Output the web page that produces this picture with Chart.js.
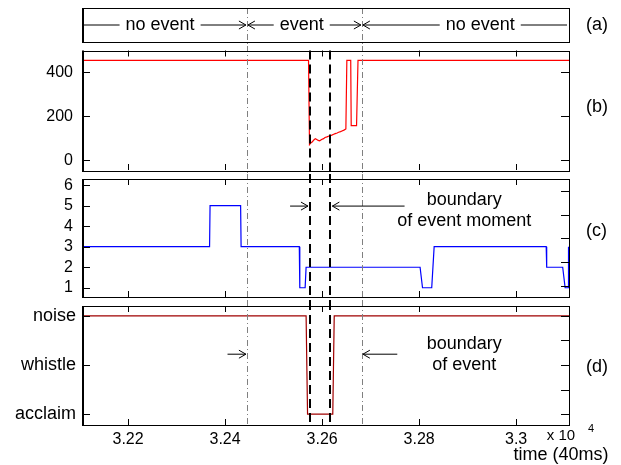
<!DOCTYPE html>
<html>
<head>
<meta charset="utf-8">
<script src="https://cdn.jsdelivr.net/npm/chart.js@4.4.0/dist/chart.umd.min.js"></script>
<style>
  body { margin: 0; background: #fff; width: 621px; height: 465px; position: relative; overflow: hidden; }
  canvas { position: absolute; left: 0; }
</style>
</head>
<body>
<canvas id="pa" width="621" height="46" style="top:0px"></canvas>
<canvas id="pb" width="621" height="128" style="top:46px"></canvas>
<canvas id="pc" width="621" height="127" style="top:174px"></canvas>
<canvas id="pd" width="621" height="164" style="top:301px"></canvas>
<script>
// x range and ticks (time in units of 40ms)
const xMin = 32105, xMax = 33109;
const xTicks = [32200, 32400, 32600, 32800, 33000];
const eventBounds = [32445, 32682];    // grey dash-dot lines
const momentBounds = [32575, 32617];   // black dashed lines

// (a) segments
const segLabels = ['no event', 'event', 'no event'];
const segCenters = [32266, 32558, 32926];

// (b) red curve
const bTime  = [32105, 32572, 32574, 32577, 32580, 32583, 32586, 32589, 32592, 32595, 32599, 32603, 32606, 32610, 32613, 32617, 32620, 32624, 32627, 32631, 32634, 32638, 32641, 32645, 32649, 32651, 32659, 32660, 32671, 32674, 33109];
const bValue = [455, 455, 71, 79, 84, 92, 98, 94, 90, 88, 94, 98, 103, 106, 109, 112, 114, 118, 121, 124, 127, 130, 133, 137, 142, 455, 455, 157, 157, 455, 455];
const bTicks = [0, 200, 400];

// (c) blue curve
const cTime  = [32105, 32368, 32369, 32432, 32433, 32553, 32554, 32565, 32567, 32802, 32807, 32826, 32831, 33062, 33063, 33096, 33101, 33107, 33108];
const cValue = [3, 3, 5, 5, 3, 3, 1, 1, 2, 2, 1, 1, 3, 3, 2, 2, 1, 1, 3];
const cTicks = [1, 2, 3, 4, 5, 6];
const cRightTicks = [1, 2, 3, 4, 5];

// (d) sound class
const dTime  = [32105, 32567, 32570, 32622, 32625, 33109];
const dValue = [3, 3, 1, 1, 3, 3];
const dTicks = [1, 2, 3];
const dNames = ['acclaim', 'whistle', 'noise'];
const dRightTicks = [1, 1.5, 2, 2.5, 3];

Chart.defaults.font.family = '"Liberation Sans", Arial, sans-serif';
Chart.defaults.color = '#000';
Chart.defaults.animation = false;

const FONT = '"Liberation Sans", Arial, sans-serif';

function pts(t, v) { return t.map((x, i) => ({ x: x, y: v[i] })); }

function noPad(s) {
  s.paddingTop = 0; s.paddingBottom = 0; s.paddingLeft = 0; s.paddingRight = 0;
}

function xScale(labels) {
  return {
    type: 'linear', min: xMin, max: xMax, display: labels,
    afterBuildTicks: s => { s.ticks = xTicks.map(v => ({ value: v })); },
    afterFit: s => { if (labels) s.height = 40; noPad(s); },
    grid: { display: false, drawTicks: false },
    border: { display: false },
    ticks: { font: { size: 16 }, padding: 5, maxRotation: 0, autoSkip: false,
      callback: v => String(v / 10000) }
  };
}

function yScale(min, max, ticks, cb, size) {
  const o = {
    min: min, max: max,
    afterBuildTicks: s => { s.ticks = ticks.map(v => ({ value: v })); },
    afterFit: s => { s.width = 82; noPad(s); },
    grid: { display: false, drawTicks: false },
    border: { display: false },
    ticks: { font: { size: size || 16 }, padding: size ? 6 : 9, autoSkip: false }
  };
  if (cb) o.ticks.callback = cb;
  return o;
}

function yRight(min, max, ticks) {
  return {
    position: 'right', min: min, max: max,
    afterBuildTicks: s => { s.ticks = ticks.map(v => ({ value: v })); },
    afterFit: s => { s.width = 0; noPad(s); },
    grid: { display: false, drawTicks: false },
    border: { display: false },
    ticks: { display: false }
  };
}

function arrow(ctx, x1, x2, y, head) {
  ctx.beginPath();
  ctx.moveTo(x1, y);
  ctx.lineTo(x2, y);
  if (head) {
    const d = x2 > x1 ? -1 : 1;
    ctx.moveTo(x2 + d * 7, y - 4);
    ctx.lineTo(x2, y);
    ctx.lineTo(x2 + d * 7, y + 4);
  }
  ctx.stroke();
}

function vlines(chart, values, from, to, dash, color, width) {
  const ctx = chart.ctx, x = chart.scales.x;
  ctx.save();
  ctx.setLineDash(dash);
  ctx.strokeStyle = color;
  ctx.lineWidth = width;
  values.forEach(v => {
    const px = Math.round(x.getPixelForValue(v)) + (width % 2 ? 0.5 : 0);
    ctx.beginPath();
    ctx.moveTo(px, from);
    ctx.lineTo(px, to);
    ctx.stroke();
  });
  ctx.restore();
}

const frame = {
  id: 'frame',
  afterDraw(chart, args, opts) {
    const ctx = chart.ctx, a = chart.chartArea, H = chart.height;
    const top = opts.edgeTop ? 0 : a.top;
    const bottom = opts.edgeBottom ? H : a.bottom;

    vlines(chart, eventBounds, top, bottom, [6, 3, 1, 3], '#808080', 1);
    if (opts.moment) {
      vlines(chart, momentBounds, opts.momentTop ? a.top : top, bottom, [9, 5], '#000', 2);
    }

    ctx.save();
    ctx.strokeStyle = '#000';
    ctx.lineWidth = 1;
    ctx.setLineDash([]);
    if (opts.ticks) {
      const x = chart.scales.x, y = chart.scales.y, y2 = chart.scales.y2;
      ctx.beginPath();
      xTicks.forEach(v => {
        const px = Math.round(x.getPixelForValue(v)) + 0.5;
        ctx.moveTo(px, a.bottom); ctx.lineTo(px, a.bottom - 6);
        ctx.moveTo(px, a.top); ctx.lineTo(px, a.top + 6);
      });
      y.ticks.forEach(t => {
        const py = Math.round(y.getPixelForValue(t.value)) + 0.5;
        ctx.moveTo(a.left, py); ctx.lineTo(a.left + 8, py);
      });
      y2.ticks.forEach(t => {
        const py = Math.round(y2.getPixelForValue(t.value)) + 0.5;
        ctx.moveTo(a.right, py); ctx.lineTo(a.right - 8, py);
      });
      ctx.stroke();
    }
    ctx.strokeRect(Math.round(a.left) + 0.5, Math.round(a.top) + 0.5,
      Math.round(a.right - a.left), Math.round(a.bottom - a.top));
    ctx.lineWidth = 2;
    ctx.beginPath();
    ctx.moveTo(Math.round(a.left) + 1, a.top);
    ctx.lineTo(Math.round(a.left) + 1, a.bottom + 1);
    ctx.stroke();

    ctx.fillStyle = '#000';
    ctx.font = '18px ' + FONT;
    ctx.textAlign = 'left';
    ctx.textBaseline = 'middle';
    ctx.fillText(opts.tag, 586, opts.tagY);
    ctx.lineWidth = 1;
    if (opts.extra) opts.extra(chart, ctx);
    ctx.restore();
  }
};

function lineChart(id, data, color, y, y2, frameOpts, showX, pad) {
  return new Chart(document.getElementById(id), {
    type: 'line',
    data: { datasets: [{ data: data, borderColor: color, borderWidth: 1.2, pointRadius: 0, tension: 0, yAxisID: 'y' }] },
    options: {
      responsive: false,
      layout: { padding: pad },
      plugins: { legend: { display: false }, tooltip: { enabled: false }, frame: frameOpts },
      scales: { x: xScale(showX), y: y, y2: y2 }
    },
    plugins: [frame]
  });
}

// (a) event annotation
new Chart(document.getElementById('pa'), {
  type: 'line',
  data: { datasets: [{ data: [] }] },
  options: {
    responsive: false,
    layout: { padding: { left: 82, right: 52, top: 8, bottom: 4 } },
    plugins: { legend: { display: false }, tooltip: { enabled: false },
      frame: {
        edgeBottom: true, moment: false, ticks: false, tag: '(a)', tagY: 25,
        extra: (chart, ctx) => {
          const a = chart.chartArea, x = chart.scales.x;
          const yy = (a.top + a.bottom) / 2;
          const ends = [a.left + 1, x.getPixelForValue(eventBounds[0]), x.getPixelForValue(eventBounds[1]), a.right - 2];
          ctx.textAlign = 'center';
          segLabels.forEach((lab, i) => {
            const c = x.getPixelForValue(segCenters[i]);
            const w = ctx.measureText(lab).width;
            ctx.fillText(lab, c, yy);
            arrow(ctx, c - w / 2 - 6, ends[i] + (i > 0 ? 1 : 0), yy, i > 0);
            arrow(ctx, c + w / 2 + 6, ends[i + 1] - (i < 2 ? 1 : 0), yy, i < 2);
          });
        }
      }
    },
    scales: {
      x: { type: 'linear', min: xMin, max: xMax, display: false },
      y: { min: 0, max: 1, display: false }
    }
  },
  plugins: [frame]
});

// (b)
lineChart('pb', pts(bTime, bValue), '#ff0000',
  yScale(-45, 500, bTicks), yRight(-45, 500, bTicks),
  { edgeTop: true, edgeBottom: true, moment: true, momentTop: true, ticks: true, tag: '(b)', tagY: 61 },
  false, { left: 0, right: 52, top: 4.5, bottom: 4 });

// (c)
lineChart('pc', pts(cTime, cValue), '#0000ff',
  yScale(0.55, 6.3, cTicks), yRight(0.54, 5.5, cRightTicks),
  { edgeTop: true, edgeBottom: true, moment: true, ticks: true, tag: '(c)', tagY: 57,
    extra: (chart, ctx) => {
      const x = chart.scales.x, y = chart.scales.y;
      const ya = y.getPixelForValue(4.98);
      arrow(ctx, x.getPixelForValue(32534), x.getPixelForValue(momentBounds[0]) - 2, ya, true);
      arrow(ctx, x.getPixelForValue(32770), x.getPixelForValue(momentBounds[1]) + 2, ya, true);
      ctx.textAlign = 'center';
      const cx = x.getPixelForValue(32893);
      ctx.fillText('boundary', cx, y.getPixelForValue(5.28));
      ctx.fillText('of event moment', cx, y.getPixelForValue(4.25));
    } },
  false, { left: 0, right: 52, top: 5, bottom: 4 });

// (d)
lineChart('pd', pts(dTime, dValue), '#a00000',
  yScale(0.78, 3.2, dTicks, v => dNames[v - 1], 18), yRight(0.78, 3.2, dRightTicks),
  { edgeTop: true, moment: true, ticks: true, tag: '(d)', tagY: 66,
    extra: (chart, ctx) => {
      const x = chart.scales.x, y = chart.scales.y, a = chart.chartArea;
      const ya = y.getPixelForValue(2.22);
      arrow(ctx, x.getPixelForValue(32405), x.getPixelForValue(eventBounds[0]) - 1, ya, true);
      arrow(ctx, x.getPixelForValue(32755), x.getPixelForValue(eventBounds[1]) + 1, ya, true);
      ctx.textAlign = 'center';
      const cx = x.getPixelForValue(32893);
      ctx.fillText('boundary', cx, y.getPixelForValue(2.43));
      ctx.fillText('of event', cx, y.getPixelForValue(2.0));
      ctx.fillText('time (40ms)', 561, a.bottom + 30);
      ctx.font = '15px ' + FONT;
      ctx.fillText('x 10', 561, a.bottom + 11);
      ctx.font = '11px ' + FONT;
      ctx.fillText('4', 591, a.bottom + 4);
    } },
  true, { left: 0, right: 52, top: 5, bottom: 0 });
</script>
</body>
</html>
